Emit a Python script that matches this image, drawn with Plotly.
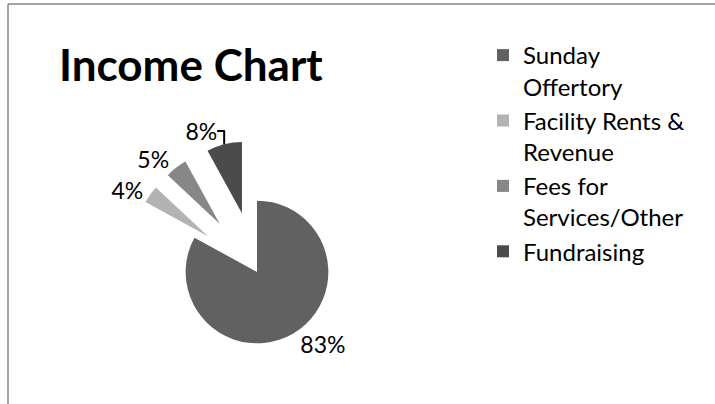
import plotly.graph_objects as go

categories = ["Sunday<br>Offertory", "Facility Rents &<br>Revenue", "Fees for<br>Services/Other", "Fundraising"]
values = [83, 4, 5, 8]
colors = ["#616161", "#b3b3b3", "#878787", "#4b4b4b"]
pulls = [0, 0.85, 0.85, 0.85]

W, H = 715, 404
FONT = "Lato, 'Open Sans', sans-serif"

fig = go.Figure(go.Pie(
    labels=categories,
    values=values,
    sort=False,
    direction="clockwise",
    rotation=0,
    pull=pulls,
    marker=dict(colors=colors, line=dict(width=0)),
    textinfo="percent",
    texttemplate="%{percent:.0%}",
    textposition="outside",
    outsidetextfont=dict(size=23, color="#000000", family=FONT),
    domain=dict(x=[125 / W, 389 / W], y=[0, 264 / H]),
    hoverinfo="label+percent",
))

fig.update_layout(
    width=W, height=H,
    margin=dict(l=0, r=0, t=0, b=0, autoexpand=False),
    paper_bgcolor="white",
    plot_bgcolor="white",
    font=dict(family=FONT, color="#000000"),
    title=dict(text="<b>Income Chart</b>", x=59 / W, xanchor="left", xref="paper",
               y=1 - 66 / H, yanchor="middle", yref="container",
               font=dict(size=44, family=FONT, color="#000000")),
    legend=dict(x=483 / W, xanchor="left", y=1 - 33 / H, yanchor="top",
                font=dict(size=24, family=FONT, color="#000000"),
                valign="top", bgcolor="rgba(0,0,0,0)"),
    shapes=[
        dict(type="line", xref="paper", yref="paper", x0=8 / W, x1=1, y0=1 - 4 / H, y1=1 - 4 / H,
             line=dict(color="#868686", width=1.5)),
        dict(type="line", xref="paper", yref="paper", x0=8 / W, x1=8 / W, y0=0, y1=1 - 4 / H,
             line=dict(color="#868686", width=1.5)),
    ],
)

fig.write_html("out.html", config={"displayModeBar": False},
               post_script="document.body.style.margin='0';")
